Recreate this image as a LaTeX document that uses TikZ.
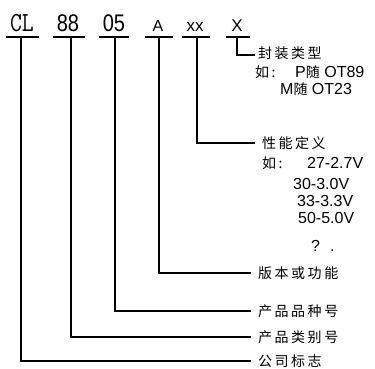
\documentclass[tikz,border=0pt]{standalone}
\usepackage{fontspec}
\setmainfont{Liberation Sans}
\newfontfamily\cjk[LetterSpace=18]{Noto Sans CJK SC}
\newfontfamily\cjkplain{Noto Sans CJK SC}
\begin{document}
\begin{tikzpicture}[x=1pt,y=-1pt,
  wire/.style={line width=1.2pt,line cap=rect},
  code/.style={inner sep=0pt,anchor=base},
  lbl/.style={inner sep=0pt,anchor=west,font=\fontsize{14}{16}\cjk},
  num/.style={inner sep=0pt,anchor=west,font=\fontsize{16}{18}\selectfont},
]
\useasboundingbox (0,0) rectangle (375,369);
% code letters
\node[code,font=\fontsize{23}{25}\ttfamily] (cCL) at (22,32) {\scalebox{1}[1.2]{CL}};
\node[code,font=\fontsize{20}{22}\selectfont] (c88) at (68,32) {\scalebox{1}[1.2]{88}};
\node[code,font=\fontsize{20}{22}\selectfont] (c05) at (114,32) {\scalebox{1}[1.2]{05}};
\node[code,font=\fontsize{16}{18}\selectfont] (cA) at (158,32) {A};
\node[code,font=\fontsize{17}{18}\selectfont] (cxx) at (195,32) {xx};
\node[code,font=\fontsize{17}{18}\selectfont] (cX) at (237,32) {X};
% underline anchors
\coordinate (uCL) at (21,37);
\coordinate (u88) at (71,37);
\coordinate (u05) at (115,37);
\coordinate (uA) at (159,37);
\coordinate (uxx) at (197,37);
\coordinate (uX) at (237,37);
\draw[wire] (7,37) -- (38,37);
\draw[wire] (54,37) -- (84,37);
\draw[wire] (100,37) -- (128,37);
\draw[wire] (146,37) -- (172,37);
\draw[wire] (183,37) -- (209,37);
\draw[wire] (227,37) -- (249,37);
% right-hand labels
\node[lbl] (lX) at (258,53) {封装类型};
\node[lbl] (lX2) at (255,72) {如:};
\node[num] (lX3) at (295,72) {P{\cjkplain\fontsize{14}{16}\selectfont 随} OT89};
\node[num] (lX4) at (280,89) {M{\cjkplain\fontsize{14}{16}\selectfont 随} OT23};
\node[lbl] (lxx) at (262,143) {性能定义};
\node[lbl] (lxx2) at (262,163) {如:};
\node[num] (v1) at (307,163) {27-2.7V};
\node[num] (v2) at (293,184) {30-3.0V};
\node[num] (v3) at (297,201) {33-3.3V};
\node[num] (v4) at (298,218) {50-5.0V};
\node[num] (v5) at (311,246) {?\hspace{10pt}.};
\node[lbl] (lA) at (258,273) {版本或功能};
\node[lbl] (l05) at (258,311) {产品品种号};
\node[lbl] (l88) at (258,337) {产品类别号};
\node[lbl] (lCL) at (258,361) {公司标志};
% connectors
\draw[wire] (uX) |- ([xshift=-4pt]lX.west |- 0,55);
\draw[wire] (uxx) |- ([xshift=-8pt]lxx.west);
\draw[wire] (uA) |- ([xshift=-8pt]lA.west);
\draw[wire] (u05) |- ([xshift=-8pt]l05.west);
\draw[wire] (u88) |- ([xshift=-8pt]l88.west);
\draw[wire] (uCL) |- ([xshift=-8pt]lCL.west);
\end{tikzpicture}
\end{document}
